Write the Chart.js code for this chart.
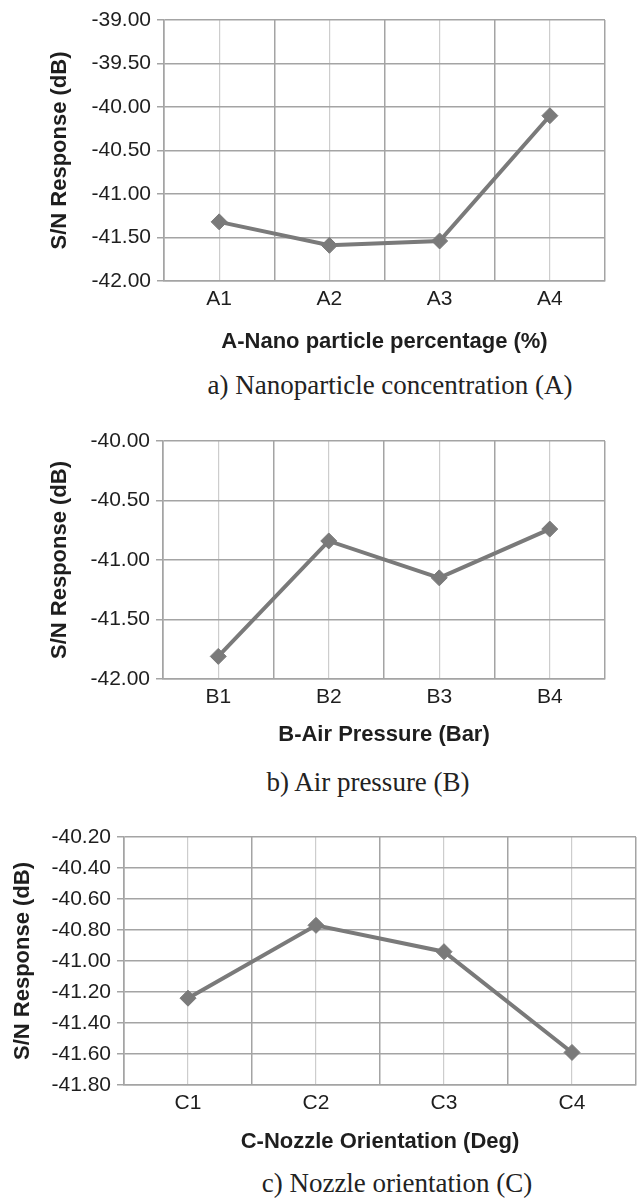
<!DOCTYPE html>
<html>
<head>
<meta charset="utf-8">
<script src="https://cdn.jsdelivr.net/npm/chart.js@4.4.0/dist/chart.umd.min.js"></script>
<style>
    html, body { margin: 0; padding: 0; background: #fff; overflow: hidden; }
    body { width: 639px; height: 1199px; position: relative; }
    .box { position: absolute; left: 0; }
    .caption {
        position: absolute;
        font-family: 'Liberation Serif', 'Times New Roman', serif;
        font-size: 27px;
        color: #222;
        white-space: nowrap;
        transform: translate(-50%, -50%);
    }
</style>
</head>
<body>
<div class="box" style="top:0;width:639px;height:361px"><canvas id="chart-a"></canvas></div>
<div class="caption" style="left:390px;top:385px">a) Nanoparticle concentration (A)</div>
<div class="box" style="top:420px;width:639px;height:334px"><canvas id="chart-b"></canvas></div>
<div class="caption" style="left:368px;top:782px">b) Air pressure (B)</div>
<div class="box" style="top:815px;width:645px;height:346px"><canvas id="chart-c"></canvas></div>
<div class="caption" style="left:397px;top:1183px">c) Nozzle orientation (C)</div>

<script>
// S/N response per factor level
const levelsA = ['A1', 'A2', 'A3', 'A4'];
const valuesA = [-41.32, -41.59, -41.54, -40.10];
const ticksA = [-42.00, -41.50, -41.00, -40.50, -40.00, -39.50, -39.00];

const levelsB = ['B1', 'B2', 'B3', 'B4'];
const valuesB = [-41.81, -40.84, -41.15, -40.74];
const ticksB = [-42.00, -41.50, -41.00, -40.50, -40.00];

const levelsC = ['C1', 'C2', 'C3', 'C4'];
const valuesC = [-41.24, -40.77, -40.94, -41.59];
const ticksC = [-41.80, -41.60, -41.40, -41.20, -41.00, -40.80, -40.60, -40.40, -40.20];

const colors = {
    line: '#7a7a7a',
    grid: '#a4a4a4',
    gridLight: '#cdcdcd',
    text: '#1e1e1e'
};

const sans = "'Liberation Sans', Arial, sans-serif";

function makeChart(id, labels, values, ticks, xTitle, box) {
    const ctx = document.getElementById(id);
    new Chart(ctx, {
        type: 'line',
        data: {
            labels: labels,
            datasets: [{
                data: values,
                borderColor: colors.line,
                backgroundColor: colors.line,
                borderWidth: 4,
                tension: 0,
                pointStyle: 'rectRot',
                pointRadius: 8,
                pointHoverRadius: 8,
                pointBackgroundColor: colors.line,
                pointBorderColor: colors.line,
                pointBorderWidth: 1
            }]
        },
        options: {
            responsive: true,
            maintainAspectRatio: false,
            animation: false,
            layout: {
                padding: { top: box.top, right: box.right, bottom: 0, left: 0 }
            },
            plugins: {
                legend: { display: false },
                tooltip: { enabled: false }
            },
            scales: {
                x: {
                    type: 'category',
                    offset: true,
                    afterFit: (scale) => { scale.height = box.xHeight; },
                    grid: {
                        offset: true,
                        color: colors.grid,
                        lineWidth: 1.5,
                        drawTicks: false
                    },
                    border: { color: colors.grid, width: 1.5 },
                    ticks: {
                        color: colors.text,
                        padding: 6,
                        font: { family: sans, size: 21 }
                    },
                    title: {
                        display: true,
                        text: xTitle,
                        color: colors.text,
                        padding: { top: 0, bottom: 6 },
                        font: { family: sans, size: 22, weight: 'bold' }
                    }
                },
                // light lines through the category centres
                x2: {
                    type: 'category',
                    position: 'bottom',
                    offset: true,
                    afterFit: (scale) => { scale.height = 0; },
                    grid: {
                        offset: false,
                        color: colors.gridLight,
                        lineWidth: 1.2,
                        drawTicks: false
                    },
                    border: { display: false },
                    ticks: { display: false }
                },
                y: {
                    min: ticks[0],
                    max: ticks[ticks.length - 1],
                    afterBuildTicks: (scale) => {
                        scale.ticks = ticks.map(v => ({ value: v }));
                    },
                    afterFit: (scale) => { scale.width = box.yWidth; },
                    grid: {
                        color: colors.grid,
                        lineWidth: 1.5,
                        tickLength: 7
                    },
                    border: { color: colors.grid, width: 1.5 },
                    ticks: {
                        color: colors.text,
                        padding: 6,
                        callback: (value) => Number(value).toFixed(2),
                        font: { family: sans, size: 21 }
                    },
                    title: {
                        display: true,
                        text: 'S/N Response (dB)',
                        color: colors.text,
                        padding: { top: box.yTitlePad, bottom: 0 },
                        font: { family: sans, size: 22, weight: 'bold' }
                    }
                }
            }
        }
    });
}

makeChart('chart-a', levelsA, valuesA, ticksA, 'A-Nano particle percentage (%)',
    { top: 20, right: 34, xHeight: 80, yWidth: 164, yTitlePad: 47 });
makeChart('chart-b', levelsB, valuesB, ticksB, 'B-Air Pressure (Bar)',
    { top: 21, right: 34, xHeight: 75, yWidth: 163, yTitlePad: 47 });
makeChart('chart-c', levelsC, valuesC, ticksC, 'C-Nozzle Orientation (Deg)',
    { top: 22, right: 4, xHeight: 76, yWidth: 124, yTitlePad: 10 });
</script>
</body>
</html>
